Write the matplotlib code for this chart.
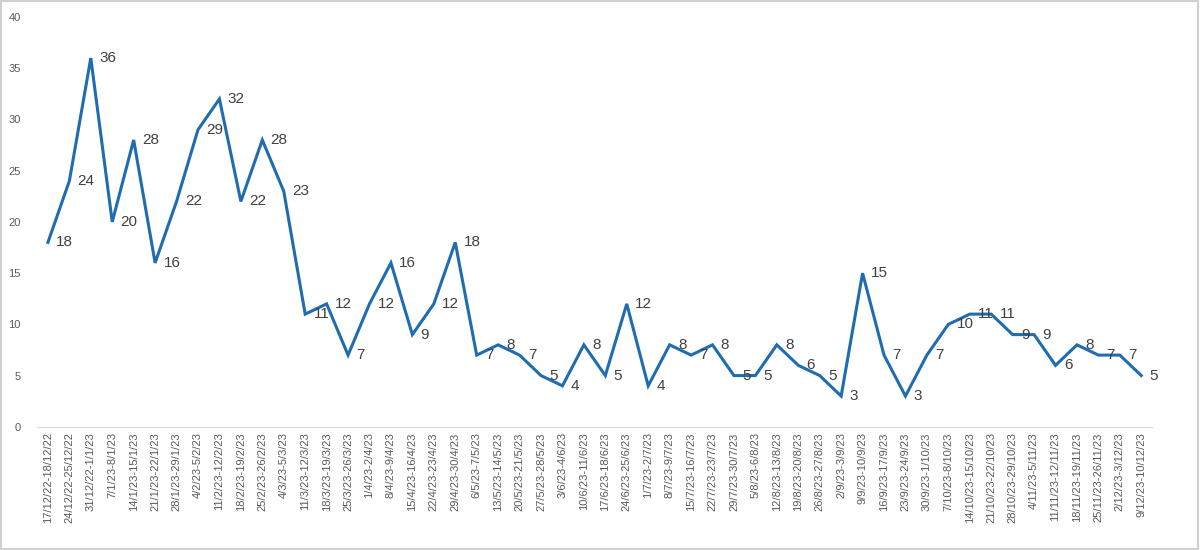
import matplotlib.pyplot as plt
from matplotlib.patches import Rectangle

plt.rcParams['font.family'] = ['Liberation Sans', 'DejaVu Sans']

weeks = [
    '17/12/22-18/12/22', '24/12/22-25/12/22', '31/12/22-1/1/23', '7/1/23-8/1/23',
    '14/1/23-15/1/23', '21/1/23-22/1/23', '28/1/23-29/1/23', '4/2/23-5/2/23',
    '11/2/23-12/2/23', '18/2/23-19/2/23', '25/2/23-26/2/23', '4/3/23-5/3/23',
    '11/3/23-12/3/23', '18/3/23-19/3/23', '25/3/23-26/3/23', '1/4/23-2/4/23',
    '8/4/23-9/4/23', '15/4/23-16/4/23', '22/4/23-23/4/23', '29/4/23-30/4/23',
    '6/5/23-7/5/23', '13/5/23-14/5/23', '20/5/23-21/5/23', '27/5/23-28/5/23',
    '3/6/23-4/6/23', '10/6/23-11/6/23', '17/6/23-18/6/23', '24/6/23-25/6/23',
    '1/7/23-2/7/23', '8/7/23-9/7/23', '15/7/23-16/7/23', '22/7/23-23/7/23',
    '29/7/23-30/7/23', '5/8/23-6/8/23', '12/8/23-13/8/23', '19/8/23-20/8/23',
    '26/8/23-27/8/23', '2/9/23-3/9/23', '9/9/23-10/9/23', '16/9/23-17/9/23',
    '23/9/23-24/9/23', '30/9/23-1/10/23', '7/10/23-8/10/23', '14/10/23-15/10/23',
    '21/10/23-22/10/23', '28/10/23-29/10/23', '4/11/23-5/11/23', '11/11/23-12/11/23',
    '18/11/23-19/11/23', '25/11/23-26/11/23', '2/12/23-3/12/23', '9/12/23-10/12/23',
]
counts = [18, 24, 36, 20, 28, 16, 22, 29, 32, 22, 28, 23, 11, 12, 7, 12, 16, 9,
          12, 18, 7, 8, 7, 5, 4, 8, 5, 12, 4, 8, 7, 8, 5, 5, 8, 6, 5, 3, 15, 7,
          3, 7, 10, 11, 11, 9, 9, 6, 8, 7, 7, 5]
y_ticks = [0, 5, 10, 15, 20, 25, 30, 35, 40]

fig = plt.figure(figsize=(12, 5.5), dpi=100)
ax = fig.add_axes([0.031, 0.224, 0.929, 0.745])

x = list(range(len(weeks)))
ax.plot(x, counts, color='#1F6DB0', linewidth=2.2, solid_joinstyle='miter')

# value labels to the right of each point
for xi, v in zip(x, counts):
    ax.annotate(str(v), (xi, v), xytext=(6, 0), textcoords='offset points',
                ha='left', va='center', fontsize=11, color='#404040')

ax.set_xlim(-0.5, len(weeks) - 0.5)
ax.set_ylim(0, 40)
ax.set_yticks(y_ticks)
ax.set_yticklabels([str(t) for t in y_ticks], fontsize=8, color='#595959')
ax.set_xticks(x)
ax.set_xticklabels(weeks, rotation=90, fontsize=8, color='#595959')
ax.tick_params(length=0, pad=4)
ax.tick_params(axis='y', pad=12)

for side in ['top', 'right', 'left']:
    ax.spines[side].set_visible(False)
ax.spines['bottom'].set_color('#D9D9D9')
ax.spines['bottom'].set_linewidth(0.8)

# light frame around the chart image
fig.patches.append(Rectangle((0.001, 0.002), 0.997, 0.996, transform=fig.transFigure,
                             fill=False, edgecolor='#D0D0D0', linewidth=1.5))

fig.savefig('out.png', dpi=100)
